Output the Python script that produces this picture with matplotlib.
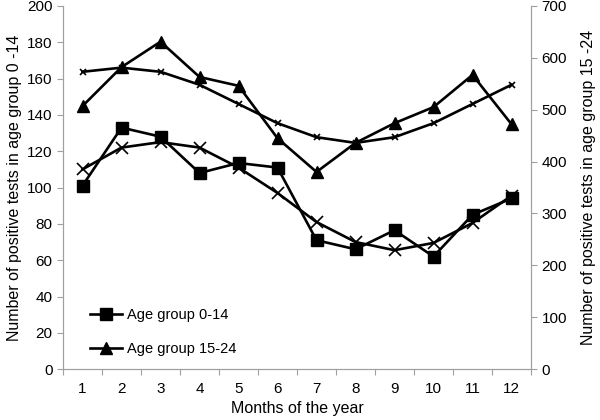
import matplotlib.pyplot as plt
from matplotlib.ticker import FixedLocator, NullFormatter

plt.rcParams['font.family'] = ['Liberation Sans', 'DejaVu Sans']

months = [1, 2, 3, 4, 5, 6, 7, 8, 9, 10, 11, 12]
month_labels = ['1', '2', '3', '4', '5', '6', '7', '8', '9', '10', '11', '12']

# age group 0-14 (left axis)
young = [101, 133, 128, 108, 113.5, 111, 71, 66, 76.5, 62, 85, 94]
young_trend = [110, 122, 125, 122, 111, 97, 81, 70, 65.5, 69.5, 80.5, 95.5]

# age group 15-24 (right axis)
older = [507, 582, 631, 563, 546, 445, 380, 436, 474, 505, 567, 472]
older_trend = [573, 581, 573, 548, 511, 474, 447, 436, 447, 474, 511, 548]

grey = '#a0a0a0'

fig = plt.figure(figsize=(6, 4.2), dpi=100)
ax = fig.add_axes([0.105, 0.121, 0.78, 0.865])
ax2 = ax.twinx()

l1, = ax.plot(months, young, color='black', lw=1.9, marker='s', ms=8,
              label='Age group 0-14', zorder=3)
ax.plot(months, young_trend, color='black', lw=1.9, marker='x', ms=9, mew=1.2,
        zorder=2)
l2, = ax2.plot(months, older, color='black', lw=1.9, marker='^', ms=8.5,
               label='Age group 15-24', zorder=3)
ax2.plot(months, older_trend, color='black', lw=1.9, marker='x', ms=5, mew=1.2,
         zorder=2)

ax.set_xlim(0.5, 12.5)
ax.set_ylim(0, 200)
ax2.set_ylim(0, 700)
ax.set_yticks(range(0, 201, 20))
ax2.set_yticks(range(0, 701, 100))

# category axis: ticks between months, labels centered
ax.xaxis.set_major_locator(FixedLocator([m + 0.5 for m in range(0, 13)]))
ax.xaxis.set_major_formatter(NullFormatter())
ax.xaxis.set_minor_locator(FixedLocator(months))
ax.set_xticklabels(month_labels, minor=True)
ax.tick_params(axis='x', which='minor', length=0, pad=9, labelsize=11)
ax.tick_params(axis='x', which='major', length=4, color=grey)
ax.tick_params(axis='y', length=4, color=grey, labelsize=11)
ax2.tick_params(axis='y', length=4, color=grey, labelsize=11)

for a in (ax, ax2):
    a.spines['top'].set_visible(False)
    for s in ('left', 'right', 'bottom'):
        a.spines[s].set_color(grey)

ax.set_xlabel('Months of the year', fontsize=11.5, labelpad=4)
ax.set_ylabel('Number of positive tests in age group 0 -14', fontsize=11.5, labelpad=4)
ax2.set_ylabel('Number of positive tests in age group 15 -24', fontsize=11.5, labelpad=10)

ax2.legend([l1, l2], ['Age group 0-14', 'Age group 15-24'], loc='lower left',
           bbox_to_anchor=(0.03, 0.0), frameon=False, fontsize=10.5,
           handlelength=2.2, labelspacing=1.35, handletextpad=0.3)

fig.savefig('out.png', dpi=100)
